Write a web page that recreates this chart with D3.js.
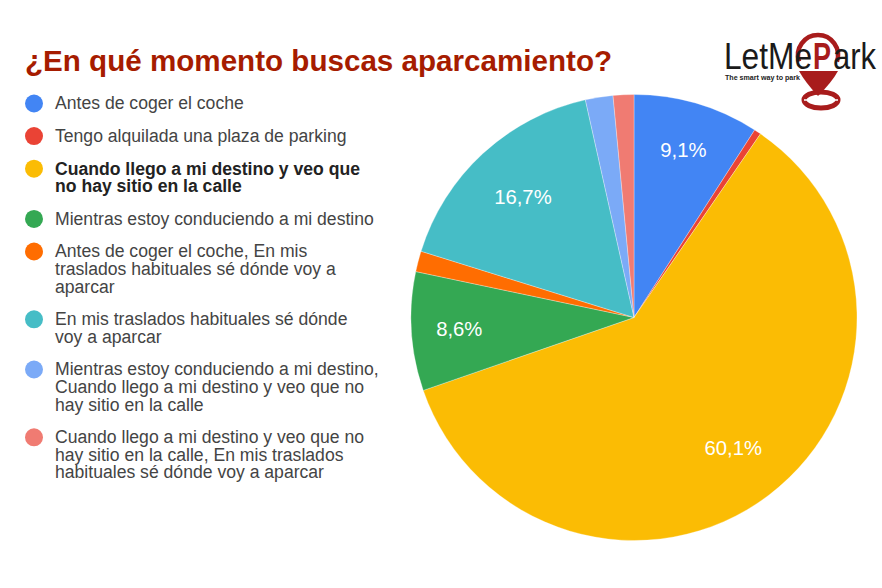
<!DOCTYPE html>
<html><head><meta charset="utf-8">
<script src="https://cdn.jsdelivr.net/npm/d3@7"></script>
<style>html,body{margin:0;padding:0;background:#fff}svg{display:block}text{font-family:"Liberation Sans",Arial,sans-serif}</style>
</head><body><div id="c"></div>
<script>
const chartTitle = "¿En qué momento buscas aparcamiento?";
const legendLines = [
 ["Antes de coger el coche"],
 ["Tengo alquilada una plaza de parking"],
 ["Cuando llego a mi destino y veo que","no hay sitio en la calle"],
 ["Mientras estoy conduciendo a mi destino"],
 ["Antes de coger el coche, En mis","traslados habituales sé dónde voy a","aparcar"],
 ["En mis traslados habituales sé dónde","voy a aparcar"],
 ["Mientras estoy conduciendo a mi destino,","Cuando llego a mi destino y veo que no","hay sitio en la calle"],
 ["Cuando llego a mi destino y veo que no","hay sitio en la calle, En mis traslados","habituales sé dónde voy a aparcar"]
];
const values = [9.1,0.5,60.1,8.6,1.5,16.7,2.0,1.5];
const colors = ["#4285f4","#ea4335","#fbbc04","#34a853","#ff6d01","#46bdc6","#7baaf7","#f07b72"];
const boldIndex = 2;
const minLabelValue = 5;

const W=882,H=588,cx=634,cy=317.5,R=223;
const svg=d3.select("#c").append("svg").attr("width",W).attr("height",H);
svg.append("text").attr("x",25).attr("y",71).attr("font-size",29.6).attr("font-weight","bold").attr("fill","#a61c00").text(chartTitle);

const pie=d3.pie().sort(null).value(d=>d)(values);
const arc=d3.arc().innerRadius(0).outerRadius(R);
const labelArc=d=>{const r=R*(d.value>=10?0.735:0.785);return d3.arc().innerRadius(r).outerRadius(r).centroid(d);};
const g=svg.append("g").attr("transform",`translate(${cx},${cy})`);
g.selectAll("path").data(pie).join("path").attr("d",arc).attr("fill",(d,i)=>colors[i]).attr("stroke","#fff").attr("stroke-width",0.3);
g.selectAll("text").data(pie.filter(d=>d.value>=minLabelValue)).join("text")
 .attr("transform",d=>`translate(${labelArc(d)})`)
 .attr("text-anchor","middle").attr("dy","0.36em").attr("font-size",20.3).attr("fill","#fff")
 .text(d=>d.value.toFixed(1).replace(".",",")+"%");

const lineH=17.6, gap=15;
let y=103.5;
const lg=svg.append("g");
legendLines.forEach((lines,i)=>{
  lg.append("circle").attr("cx",34).attr("cy",y).attr("r",9).attr("fill",colors[i]);
  const t=lg.append("text").attr("font-size",17.6).attr("fill",i===boldIndex?"#222":"#444").attr("font-weight",i===boldIndex?"bold":"normal");
  lines.forEach((l,j)=>t.append("tspan").attr("x",55).attr("y",y+5.8+j*lineH).text(l));
  y+=lines.length*lineH+gap;
});

// logo
const logo=svg.append("g");
const red="#a81c1c";
logo.append("path").attr("fill","none").attr("stroke",red).attr("stroke-width",4.5).attr("transform","translate(818,55)")
  .attr("d",d3.arc().innerRadius(20).outerRadius(20).startAngle(-1.9).endAngle(1.9)());
logo.append("ellipse").attr("cx",821).attr("cy",100).attr("rx",17).attr("ry",8).attr("fill","none").attr("stroke",red).attr("stroke-width",5);
logo.append("path").attr("fill",red).attr("d","M799 71 L838 71 Q832 82 818 96 Q805 82 799 71Z");
logo.append("path").attr("fill","none").attr("stroke","#fff").attr("stroke-width",1.5).attr("d","M804 100 L809 100 M833 100 L838 100");
const word=logo.append("text").attr("y",69).attr("font-size",36).attr("fill","#1a1a1a");
word.append("tspan").attr("x",724).attr("textLength",88).attr("lengthAdjust","spacingAndGlyphs").text("LetMe");
word.append("tspan").attr("x",813).attr("textLength",18).attr("lengthAdjust","spacingAndGlyphs").attr("font-weight","bold").attr("fill",red).text("P");
word.append("tspan").attr("x",833).attr("textLength",43).attr("lengthAdjust","spacingAndGlyphs").text("ark");
logo.append("text").attr("x",725).attr("y",79.5).attr("font-size",7).attr("font-weight","bold").attr("fill","#222").attr("textLength",75).attr("lengthAdjust","spacingAndGlyphs").text("The smart way to park");
</script></body></html>
